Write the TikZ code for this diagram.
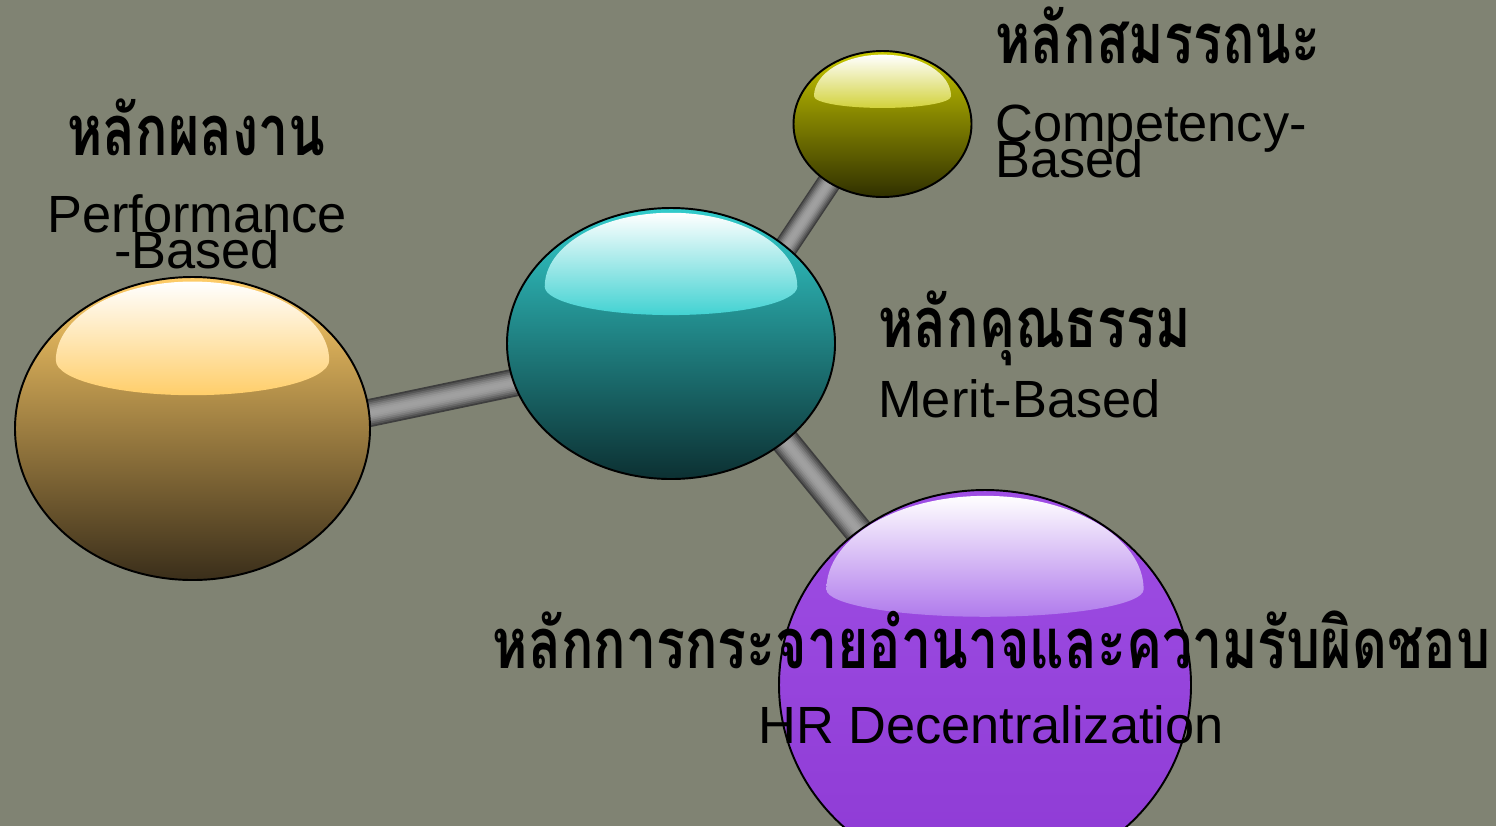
\documentclass[tikz,border=0pt]{standalone}
\usepackage{graphicx}
\usepackage{fontspec}
\setmainfont{Liberation Sans}
\newfontfamily\thaifont[Script=Thai]{Loma}
\usepackage{tikz}

\definecolor{BgGrey}{RGB}{128, 131, 115}
\definecolor{RodDark}{RGB}{62, 62, 62}
\definecolor{RodLight}{RGB}{160, 160, 160}
% ball colours: Top, Mid, Bot for the body, Hi for the bottom of the gloss
\definecolor{goldTop}{RGB}{255, 205, 104}
\definecolor{goldMid}{RGB}{218, 176, 94}
\definecolor{goldBot}{RGB}{58, 46, 26}
\definecolor{goldHi}{RGB}{255, 206, 106}
\definecolor{tealTop}{RGB}{50, 204, 204}
\definecolor{tealMid}{RGB}{38, 165, 165}
\definecolor{tealBot}{RGB}{12, 48, 50}
\definecolor{tealHi}{RGB}{66, 210, 210}
\definecolor{oliveTop}{RGB}{200, 200, 0}
\definecolor{oliveMid}{RGB}{165, 165, 0}
\definecolor{oliveBot}{RGB}{48, 48, 0}
\definecolor{oliveHi}{RGB}{210, 210, 60}
\definecolor{violetTop}{RGB}{158, 78, 228}
\definecolor{violetMid}{RGB}{148, 62, 220}
\definecolor{violetBot}{RGB}{142, 58, 212}
\definecolor{violetHi}{RGB}{176, 122, 236}

% glossy ball: centre x, centre y, x radius, y radius, colour name,
% gloss widest point, gloss upper height, gloss lower height (fractions of y radius)
\newcommand{\ball}[8]{%
  \shade[top color=#5Top, middle color=#5Mid, bottom color=#5Bot, draw=black, line width=1.1pt]
    (#1,#2) ellipse [x radius=#3, y radius=#4];
  \shade[top color=white, bottom color=#5Hi]
    ({#1-0.77*#3},{#2-#6*#4})
    arc[start angle=180, end angle=360, x radius={0.77*#3}, y radius={#7*#4}]
    arc[start angle=0, end angle=180, x radius={0.77*#3}, y radius={#8*#4}] -- cycle;
}
\newcommand{\thaiw}[1]{\scalebox{0.765}[1]{#1}}
\newcommand{\tightlines}{\lineskiplimit=-100pt\relax}

\begin{document}
\begin{tikzpicture}[x=0.02cm, y=-0.02cm,
    thai/.style={font=\thaifont\bfseries\fontsize{40}{40}\selectfont, inner sep=0pt},
    latin/.style={font=\fontsize{29.8}{20.4}\selectfont\tightlines, inner sep=0pt}
  ]
  \useasboundingbox (0,0) rectangle (1496,826);
  \clip (0,0) rectangle (1496,826);
  \fill[BgGrey] (0,0) rectangle (1496,826);

  % centres and rod ends
  \coordinate (gold) at (192.5,428.5);
  \coordinate (teal) at (671,343.5);
  \coordinate (olive) at (882.5,124);
  \coordinate (violet) at (985,685);
  \coordinate (gt-a) at (193,450);
  \coordinate (gt-b) at (670,350);
  \coordinate (to-a) at (722,343);
  \coordinate (to-b) at (868,124);
  \coordinate (tv-a) at (705,343);
  \coordinate (tv-b) at (980,680);

  % Rods
  \foreach \a/\b/\w in {gt-a/gt-b/28, to-a/to-b/24, tv-a/tv-b/29} {
    \foreach \k in {0,...,7} {
      \pgfmathsetmacro{\lw}{\w*(8-\k)/8}
      \pgfmathtruncatemacro{\mix}{100*sin(90*\k/7)}
      \draw[line width=\lw*0.02cm, RodLight!\mix!RodDark] (\a) -- (\b);
    }
  }

  % Balls
  \ball{192.5}{428.5}{177.5}{151.5}{gold}{0.45}{0.52}{0.23}
  \ball{671}{343.5}{164}{135.5}{teal}{0.42}{0.545}{0.21}
  \ball{882.5}{124}{89}{73}{olive}{0.38}{0.57}{0.16}
  \ball{985}{685}{206}{195}{violet}{0.49}{0.48}{0.14}

  % Labels
  \node[thai, anchor=base] (perfTH) at (196.5,155) {\thaiw{หลักผลงาน}};
  \node[latin, anchor=base, align=center] (perfEN) at (197,268) {Performance\\-Based};
  \node[thai, anchor=base west] (compTH) at (995,63) {\thaiw{หลักสมรรถนะ}};
  \node[latin, anchor=base west, align=left] (compEN) at (995,177) {Competency-\\Based};
  \node[thai, anchor=base west] (meritTH) at (878,347) {\thaiw{หลักคุณธรรม}};
  \node[latin, anchor=base west] (meritEN) at (878,417) {Merit-Based};
  \node[thai, anchor=base] (decTH) at (991.5,668) {\thaiw{หลักการกระจายอำนาจและความรับผิดชอบ}};
  \node[latin, anchor=base] (decEN) at (991,743) {HR Decentralization};
\end{tikzpicture}
\end{document}
